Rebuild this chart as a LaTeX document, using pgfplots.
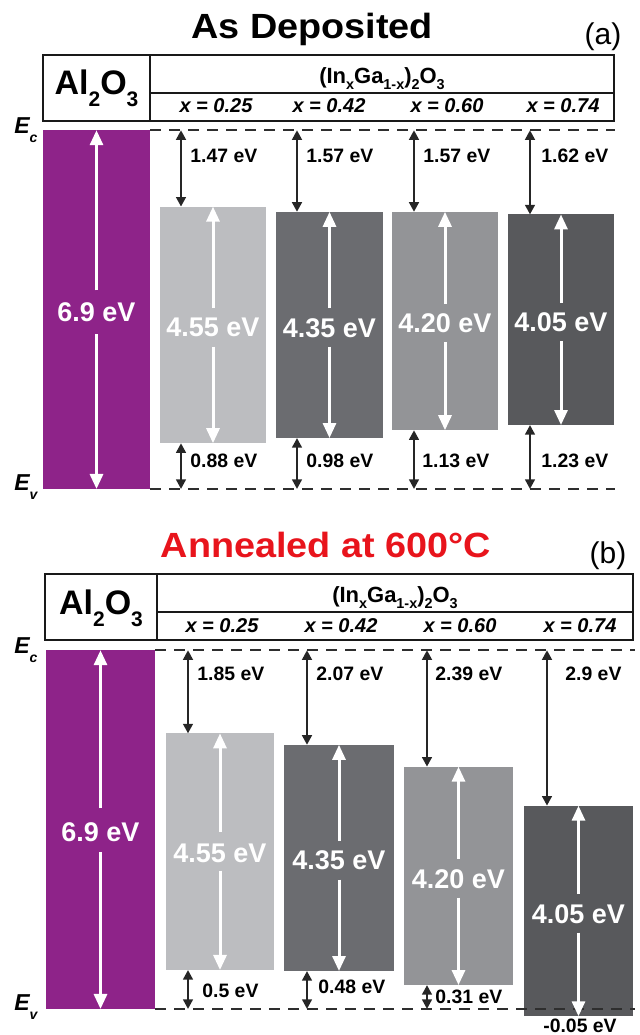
\documentclass[border=0pt]{standalone}
\usepackage{pgfplots}
\pgfplotsset{compat=1.18}
\usepackage{fontspec}
\setmainfont{Liberation Sans}
\usetikzlibrary{arrows.meta}

\definecolor{alpurple}{HTML}{8E2389}
\definecolor{ga}{HTML}{BCBDC0}
\definecolor{gb}{HTML}{6B6C70}
\definecolor{gc}{HTML}{939497}
\definecolor{gd}{HTML}{58595C}
\definecolor{dashc}{HTML}{2E2E2E}
\definecolor{titlered}{HTML}{E8141C}

\tikzset{
 warr/.style={white, line width=1.5pt, -{Triangle[width=6.5pt,length=7.5pt]}},
 barr/.style={black!85, line width=1.2pt, {Triangle[width=4.8pt,length=4.8pt]}-{Triangle[width=4.8pt,length=4.8pt]}},
 dline/.style={dashc, line width=0.85pt, dash pattern=on 5.5pt off 4pt},
 vlab/.style={anchor=base west, inner sep=0pt, font=\fontsize{9.7}{11}\selectfont\bfseries},
 blab/.style={inner sep=0pt, text=white, font=\fontsize{13.5}{15}\selectfont\bfseries},
 xlab/.style={anchor=base, inner sep=0pt, font=\fontsize{10}{12}\selectfont\bfseries\itshape},
 elab/.style={anchor=base west, inner sep=0pt, font=\fontsize{11.5}{13}\selectfont\bfseries\itshape},
 ttl/.style={anchor=base, inner sep=0pt, font=\fontsize{17.5}{20}\selectfont\bfseries},
 pl/.style={anchor=base, inner sep=0pt, font=\fontsize{15}{17}\selectfont},
 hdr/.style={black!90, line width=1pt},
}
\newcommand{\sub}[1]{\raisebox{-3pt}{\fontsize{7.2}{8}\selectfont #1}}
\newcommand{\bsub}[1]{\raisebox{-6pt}{\fontsize{10.5}{12}\selectfont #1}}
\newcommand{\esub}[1]{\raisebox{-4.5pt}{\fontsize{7}{8}\selectfont #1}}

\pgfplotsset{panel/.style={anchor=south west, width=320pt, height=258.75pt,
  scale only axis, xmin=0, xmax=640, hide axis, clip=false}}

\begin{document}
\begin{tikzpicture}
\useasboundingbox (0pt,0pt) rectangle (320pt,517.5pt);

% ---------------- panel (a) ----------------
\begin{axis}[panel, at={(0pt,258.75pt)}, ymin=-0.5481, ymax=9.4038]
% bars (x in px, y in eV above Ev)
\addplot[fill=alpurple, draw=none] coordinates {(43,0) (150,0) (150,6.9) (43,6.9)};
\addplot[fill=ga, draw=none] coordinates {(160,0.88) (266,0.88) (266,5.43) (160,5.43)};
\addplot[fill=gb, draw=none] coordinates {(276,0.98) (383,0.98) (383,5.33) (276,5.33)};
\addplot[fill=gc, draw=none] coordinates {(392,1.13) (498,1.13) (498,5.33) (392,5.33)};
\addplot[fill=gd, draw=none] coordinates {(508,1.23) (614,1.23) (614,5.28) (508,5.28)};
% dashed Ec / Ev
\addplot[dline] coordinates {(150,6.9) (615,6.9)};
\addplot[dline] coordinates {(150,0) (615,0)};
% white gap arrows
\addplot[warr] coordinates {(96.5,3.82) (96.5,6.9)};
\addplot[warr] coordinates {(96.5,2.98) (96.5,0)};
\addplot[warr] coordinates {(213,3.48) (213,5.43)};
\addplot[warr] coordinates {(213,2.74) (213,0.88)};
\addplot[warr] coordinates {(329.5,3.48) (329.5,5.33)};
\addplot[warr] coordinates {(329.5,2.74) (329.5,0.98)};
\addplot[warr] coordinates {(445,3.56) (445,5.33)};
\addplot[warr] coordinates {(445,2.82) (445,1.13)};
\addplot[warr] coordinates {(561,3.58) (561,5.28)};
\addplot[warr] coordinates {(561,2.84) (561,1.23)};
% black offset arrows
\addplot[barr] coordinates {(181,6.9) (181,5.43)};
\addplot[barr] coordinates {(181,0.88) (181,0)};
\addplot[barr] coordinates {(297,6.9) (297,5.33)};
\addplot[barr] coordinates {(297,0.98) (297,0)};
\addplot[barr] coordinates {(414,6.9) (414,5.33)};
\addplot[barr] coordinates {(414,1.13) (414,0)};
\addplot[barr] coordinates {(530,6.9) (530,5.28)};
\addplot[barr] coordinates {(530,1.23) (530,0)};
% labels
\node[blab] at (axis cs:96.5,3.40) {6.9 eV};
\node[blab] at (axis cs:213,3.10) {4.55 eV};
\node[blab] at (axis cs:329.5,3.10) {4.35 eV};
\node[blab] at (axis cs:445,3.18) {4.20 eV};
\node[blab] at (axis cs:561,3.20) {4.05 eV};
\node[vlab] at (axis cs:190,6.288) {1.47 eV};
\node[vlab] at (axis cs:306,6.288) {1.57 eV};
\node[vlab] at (axis cs:423,6.288) {1.57 eV};
\node[vlab] at (axis cs:541,6.288) {1.62 eV};
\node[vlab] at (axis cs:190,0.404) {0.88 eV};
\node[vlab] at (axis cs:306,0.404) {0.98 eV};
\node[vlab] at (axis cs:422,0.404) {1.13 eV};
\node[vlab] at (axis cs:541,0.404) {1.23 eV};
\node[elab] at (axis cs:14,6.846) {E\esub{c}};
\node[elab] at (axis cs:14,-0.038) {E\esub{v}};
% header
\draw[hdr] (axis cs:43,7.077) rectangle (axis cs:614,8.346);
\draw[hdr] (axis cs:150,7.077) -- (axis cs:150,8.346);
\draw[hdr] (axis cs:150,7.615) -- (axis cs:614,7.615);
\node[anchor=base, inner sep=0pt, font=\fontsize{17}{20}\selectfont\bfseries] at (axis cs:96.5,7.577) {Al\bsub{2}O\bsub{3}};
\node[anchor=base, inner sep=0pt, font=\fontsize{11}{13}\selectfont\bfseries] at (axis cs:382,7.79) {(In\sub{x}Ga\sub{1-x})\sub{2}O\sub{3}};
\node[xlab] at (axis cs:216,7.231) {x = 0.25};
\node[xlab] at (axis cs:329,7.231) {x = 0.42};
\node[xlab] at (axis cs:447,7.231) {x = 0.60};
\node[xlab] at (axis cs:563,7.231) {x = 0.74};
\node[ttl] at (axis cs:312,8.654) {\scalebox{1.08}[1]{As Deposited}};
\node[pl] at (axis cs:603,8.548) {(a)};
\end{axis}

% ---------------- panel (b) ----------------
\begin{axis}[panel, at={(0pt,0pt)}, ymin=-0.5, ymax=9.4519]
\addplot[fill=alpurple, draw=none] coordinates {(46,0) (155,0) (155,6.9) (46,6.9)};
\addplot[fill=ga, draw=none] coordinates {(166,0.75) (274,0.75) (274,5.30) (166,5.30)};
\addplot[fill=gb, draw=none] coordinates {(284,0.73) (394,0.73) (394,5.08) (284,5.08)};
\addplot[fill=gc, draw=none] coordinates {(404,0.46) (513,0.46) (513,4.66) (404,4.66)};
\addplot[fill=gd, draw=none] coordinates {(524,-0.14) (633,-0.14) (633,3.91) (524,3.91)};
\addplot[dline] coordinates {(155,6.9) (635,6.9)};
\addplot[dline] coordinates {(155,0) (635,0)};
% white gap arrows
\addplot[warr] coordinates {(100.5,3.86) (100.5,6.9)};
\addplot[warr] coordinates {(100.5,3.02) (100.5,0)};
\addplot[warr] coordinates {(220,3.40) (220,5.30)};
\addplot[warr] coordinates {(220,2.66) (220,0.75)};
\addplot[warr] coordinates {(339,3.23) (339,5.08)};
\addplot[warr] coordinates {(339,2.49) (339,0.73)};
\addplot[warr] coordinates {(458.5,2.88) (458.5,4.66)};
\addplot[warr] coordinates {(458.5,2.14) (458.5,0.46)};
\addplot[warr] coordinates {(578.5,2.21) (578.5,3.91)};
\addplot[warr] coordinates {(578.5,1.47) (578.5,-0.14)};
% black offset arrows
\addplot[barr] coordinates {(188,6.9) (188,5.30)};
\addplot[barr] coordinates {(188,0.75) (188,0)};
\addplot[barr] coordinates {(307,6.9) (307,5.08)};
\addplot[barr] coordinates {(307,0.73) (307,0)};
\addplot[barr] coordinates {(427,6.9) (427,4.66)};
\addplot[barr] coordinates {(427,0.46) (427,0)};
\addplot[barr] coordinates {(547,6.9) (547,3.91)};
% labels
\node[blab] at (axis cs:100.5,3.40) {6.9 eV};
\node[blab] at (axis cs:220,3.00) {4.55 eV};
\node[blab] at (axis cs:339,2.86) {4.35 eV};
\node[blab] at (axis cs:458.5,2.50) {4.20 eV};
\node[blab] at (axis cs:578.5,1.83) {4.05 eV};
\node[vlab] at (axis cs:197,6.327) {1.85 eV};
\node[vlab] at (axis cs:316,6.327) {2.07 eV};
\node[vlab] at (axis cs:435,6.327) {2.39 eV};
\node[vlab] at (axis cs:565,6.327) {2.9 eV};
\node[vlab] at (axis cs:202,0.23) {0.5 eV};
\node[vlab] at (axis cs:318,0.30) {0.48 eV};
\node[vlab] at (axis cs:435,0.115) {0.31 eV};
\node[vlab, anchor=base] at (axis cs:580,-0.46) {-0.05 eV};
\node[elab] at (axis cs:14,6.846) {E\esub{c}};
\node[elab] at (axis cs:14,-0.038) {E\esub{v}};
% header
\draw[hdr] (axis cs:45,7.096) rectangle (axis cs:633,8.365);
\draw[hdr] (axis cs:157,7.096) -- (axis cs:157,8.365);
\draw[hdr] (axis cs:157,7.635) -- (axis cs:633,7.635);
\node[anchor=base, inner sep=0pt, font=\fontsize{17}{20}\selectfont\bfseries] at (axis cs:101,7.596) {Al\bsub{2}O\bsub{3}};
\node[anchor=base, inner sep=0pt, font=\fontsize{11}{13}\selectfont\bfseries] at (axis cs:395,7.81) {(In\sub{x}Ga\sub{1-x})\sub{2}O\sub{3}};
\node[xlab] at (axis cs:222,7.25) {x = 0.25};
\node[xlab] at (axis cs:341,7.25) {x = 0.42};
\node[xlab] at (axis cs:460,7.25) {x = 0.60};
\node[xlab] at (axis cs:580,7.25) {x = 0.74};
\node[ttl, text=titlered] at (axis cs:326,8.692) {\scalebox{1.08}[1]{Annealed at 600°C}};
\node[pl] at (axis cs:608,8.577) {(b)};
\end{axis}
\end{tikzpicture}
\end{document}
